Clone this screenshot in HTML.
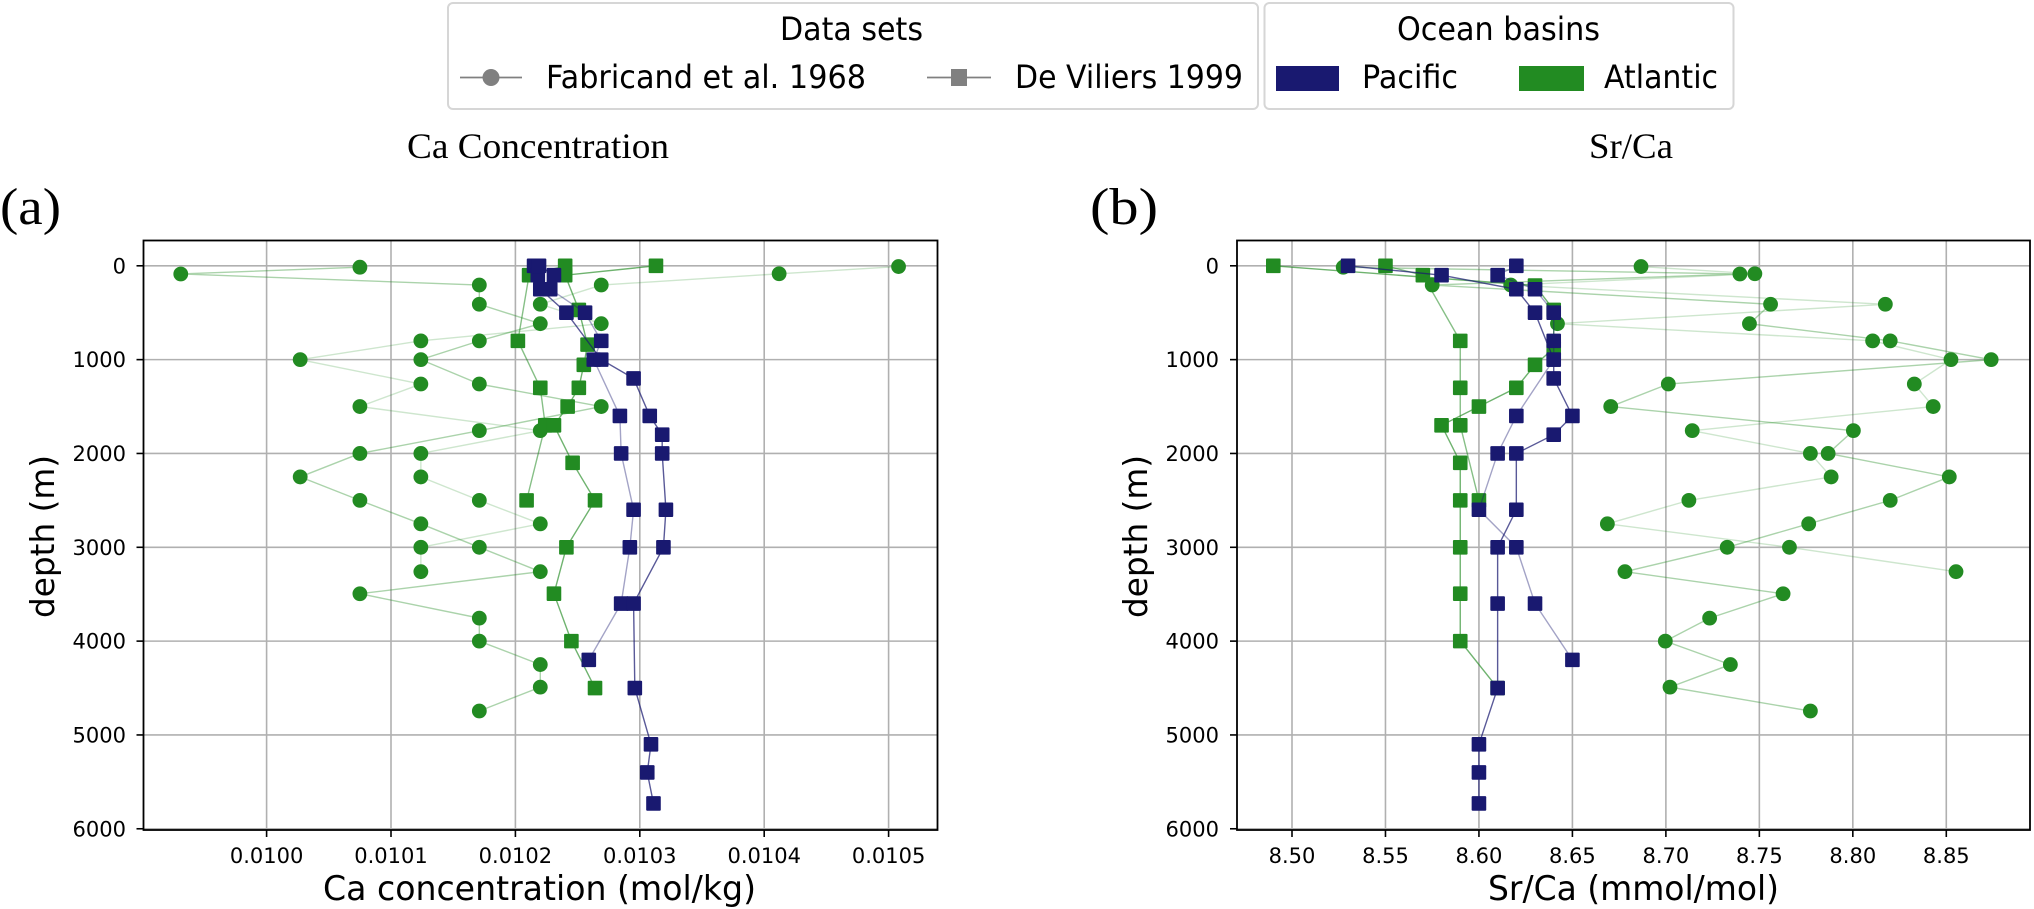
<!DOCTYPE html>
<html lang="en">
<head>
<meta charset="utf-8">
<title>Ca concentration and Sr/Ca depth profiles</title>
<style>
html,body{margin:0;padding:0;background:#fff;}
svg{display:block;}
text{font-family:"DejaVu Sans","Liberation Sans",sans-serif;fill:#000;}
.serif{font-family:"Liberation Serif","DejaVu Serif",serif;}
</style>
</head>
<body>
<svg id="figure" xmlns="http://www.w3.org/2000/svg" width="2034" height="909" viewBox="0 0 2034 909">
  <rect x="0" y="0" width="2034" height="909" fill="#fff"/>

  <g>
    <rect x="448" y="3" width="810" height="106" rx="5" fill="#fff" stroke="#d6d6d6" stroke-width="2"/>
    <text x="780" y="40" font-size="32" textLength="143" lengthAdjust="spacingAndGlyphs">Data sets</text>
    <line x1="460" y1="77.5" x2="522" y2="77.5" stroke="#808080" stroke-width="1.8"/>
    <circle cx="491" cy="77.5" r="8.5" fill="#808080"/>
    <text x="546" y="88" font-size="32" textLength="320" lengthAdjust="spacingAndGlyphs">Fabricand et al. 1968</text>
    <line x1="927" y1="77.5" x2="991" y2="77.5" stroke="#808080" stroke-width="1.8"/>
    <rect x="951" y="69" width="16" height="17" fill="#808080"/>
    <text x="1015" y="88" font-size="32" textLength="228" lengthAdjust="spacingAndGlyphs">De Viliers 1999</text>
  </g>

  <g>
    <rect x="1264.5" y="3" width="469" height="106" rx="5" fill="#fff" stroke="#d6d6d6" stroke-width="2"/>
    <text x="1397" y="40" font-size="32" textLength="203" lengthAdjust="spacingAndGlyphs">Ocean basins</text>
    <rect x="1276" y="66" width="63" height="25" fill="#191970"/>
    <text x="1362" y="88" font-size="32" textLength="96" lengthAdjust="spacingAndGlyphs">Pacific</text>
    <rect x="1519" y="66" width="65" height="25" fill="#228B22"/>
    <text x="1604" y="88" font-size="32" textLength="114" lengthAdjust="spacingAndGlyphs">Atlantic</text>
  </g>

  <text class="serif" x="407" y="158" font-size="36" textLength="262" lengthAdjust="spacingAndGlyphs">Ca Concentration</text>
  <text class="serif" x="1589" y="158" font-size="36" textLength="84" lengthAdjust="spacingAndGlyphs">Sr/Ca</text>
  <text class="serif" x="0" y="224" font-size="52" textLength="61" lengthAdjust="spacingAndGlyphs">(a)</text>
  <text class="serif" x="1090" y="224" font-size="52" textLength="68" lengthAdjust="spacingAndGlyphs">(b)</text>

  <g id="panel-a"></g>
  <g id="panel-b"></g>

  <text x="323" y="900" font-size="34" textLength="433" lengthAdjust="spacingAndGlyphs">Ca concentration (mol/kg)</text>
  <text x="1488" y="900" font-size="34" textLength="291" lengthAdjust="spacingAndGlyphs">Sr/Ca (mmol/mol)</text>
  <text transform="translate(54,536.5) rotate(-90)" text-anchor="middle" font-size="33" textLength="163" lengthAdjust="spacingAndGlyphs">depth (m)</text>
  <text transform="translate(1147,536.5) rotate(-90)" text-anchor="middle" font-size="33" textLength="163" lengthAdjust="spacingAndGlyphs">depth (m)</text>
</svg>

<script>
// Axis tick values
const depthTicks = [0, 1000, 2000, 3000, 4000, 5000, 6000];
const caTicks = [0.0100, 0.0101, 0.0102, 0.0103, 0.0104, 0.0105];
const caTickLabels = ['0.0100', '0.0101', '0.0102', '0.0103', '0.0104', '0.0105'];
const srTicks = [8.50, 8.55, 8.60, 8.65, 8.70, 8.75, 8.80, 8.85];
const srTickLabels = ['8.50', '8.55', '8.60', '8.65', '8.70', '8.75', '8.80', '8.85'];

// Fabricand et al. 1968, Atlantic (circles)
const fabDepthsX = [15, 87, 205, 410, 617, 800, 1000, 1260, 1500, 1757, 2000, 2250, 2500, 2750, 3000, 3260, 3495, 3755, 4000, 4250, 4490, 4745];
const caFabX = [0.010075, 0.009931, 0.010171, 0.010171, 0.01022, 0.010171, 0.010124, 0.010171, 0.010269, 0.010171, 0.010075, 0.010027, 0.010075, 0.010124, 0.010171, 0.01022, 0.010075, 0.010171, 0.010171, 0.01022, 0.01022, 0.010171];
const srFabX = [8.5274, 8.7396, 8.575, 8.756, 8.7447, 8.82, 8.874, 8.7013, 8.6705, 8.8003, 8.7868, 8.8516, 8.82, 8.7764, 8.7328, 8.6781, 8.7627, 8.7234, 8.6997, 8.7345, 8.7022, 8.7773];
const fabDepthsY = [8, 85, 205, 410, 617, 800, 1000, 1260, 1500, 1757, 2000, 2250, 2500, 2750, 3000, 3260];
const caFabY = [0.010508, 0.010412, 0.010269, 0.01022, 0.010269, 0.010124, 0.010027, 0.010124, 0.010075, 0.01022, 0.010124, 0.010124, 0.010171, 0.01022, 0.010124, 0.010124];
const srFabY = [8.6867, 8.7476, 8.617, 8.8174, 8.642, 8.8106, 8.8525, 8.8329, 8.843, 8.7141, 8.7773, 8.7884, 8.7123, 8.6687, 8.7661, 8.8552];

// De Viliers 1999, Atlantic (squares)
const atlDepthsA = [0, 100, 800, 1300, 1700, 2500];
const caAtlA = [0.01024, 0.010211, 0.010202, 0.01022, 0.010224, 0.010209];
const srAtlA = [8.55, 8.57, 8.59, 8.59, 8.59, 8.60];
const caAtlDepthsB = [0, 100, 470, 840, 1055, 1300, 1500, 1700, 2100, 2500, 3000, 3495, 4000, 4500];
const caAtlB = [0.010313, 0.01024, 0.010251, 0.010258, 0.010255, 0.010251, 0.010242, 0.010231, 0.010246, 0.010264, 0.010241, 0.010231, 0.010245, 0.010264];
const srAtlDepthsB = [0, 210, 470, 880, 1055, 1300, 1500, 1700, 2100, 2500, 3000, 3495, 4000, 4500];
const srAtlB = [8.49, 8.63, 8.64, 8.64, 8.63, 8.62, 8.60, 8.58, 8.59, 8.59, 8.59, 8.59, 8.59, 8.61];

// De Viliers 1999, Pacific (squares)
const pacDepthsA = [0, 100, 250, 500, 800, 1000, 1600, 2000, 2600, 3000, 3600, 4200];
const caPacA = [0.010215, 0.010218, 0.010228, 0.010256, 0.010269, 0.010263, 0.010284, 0.010285, 0.010295, 0.010292, 0.010285, 0.010259];
const srPacA = [8.62, 8.61, 8.63, 8.64, 8.64, 8.64, 8.62, 8.61, 8.60, 8.62, 8.63, 8.65];
const pacDepthsB = [0, 100, 250, 500, 1000, 1200, 1600, 1800, 2000, 2600, 3000, 3600, 4500, 5100, 5400, 5730];
const caPacB = [0.010219, 0.010231, 0.01022, 0.010241, 0.010269, 0.010295, 0.010308, 0.010318, 0.010318, 0.010321, 0.010319, 0.010295, 0.010296, 0.010309, 0.010306, 0.010311];
const srPacB = [8.53, 8.58, 8.62, 8.63, 8.64, 8.64, 8.65, 8.64, 8.62, 8.62, 8.61, 8.61, 8.61, 8.60, 8.60, 8.60];

const SVGNS = 'http://www.w3.org/2000/svg';
const GREEN = '#228B22';
const NAVY = '#191970';

function yDepth(d) { return 265.8 + d * 0.09383; }
function xCa(v) { return 266.6 + (v - 0.0100) / 0.0001 * 124.4; }
function xSr(v) { return 1292 + (v - 8.5) / 0.05 * 93.47; }

function make(parent, tag, attrs) {
  const el = document.createElementNS(SVGNS, tag);
  Object.keys(attrs).forEach(function (k) { el.setAttribute(k, attrs[k]); });
  parent.appendChild(el);
  return el;
}

function drawAxes(g, box, xFn, xTicks, xLabels, labelRight, prefix) {
  xTicks.forEach(function (v, i) {
    const x = xFn(v);
    const grid = make(g, 'line', { x1: x, y1: box.top, x2: x, y2: box.bottom, stroke: '#b0b0b0', 'stroke-width': 1.6 });
    
    
    const tick = make(g, 'line', { x1: x, y1: box.bottom, x2: x, y2: box.bottom + 7, stroke: '#000', 'stroke-width': 1.6 });
    
    
    const label = make(g, 'text', { x: x, y: 863, 'text-anchor': 'middle', 'font-size': 21 });
    
    
    label.textContent = xLabels[i];
  });
  depthTicks.forEach(function (d) {
    const y = yDepth(d);
    const grid = make(g, 'line', { x1: box.left, y1: y, x2: box.right, y2: y, stroke: '#b0b0b0', 'stroke-width': 1.6 });
    
    
    const tick = make(g, 'line', { x1: box.left - 7, y1: y, x2: box.left, y2: y, stroke: '#000', 'stroke-width': 1.6 });
    
    
    const label = make(g, 'text', { x: labelRight, y: y + 7.5, 'text-anchor': 'end', 'font-size': 21 });
    
    
    label.textContent = String(d);
  });
}

function drawFrame(g, box, prefix) {
  const frame = make(g, 'rect', { x: box.left, y: box.top, width: box.right - box.left, height: box.bottom - box.top, fill: 'none', stroke: '#000', 'stroke-width': 1.8 });
  
  
}

function drawSeries(g, xFn, depths, values, color, shape, lineAlpha, name) {
  const pts = values.map(function (v, i) { return [xFn(v), yDepth(depths[i])]; });
  const line = make(g, 'polyline', {
    points: pts.map(function (p) { return p[0].toFixed(2) + ',' + p[1].toFixed(2); }).join(' '),
    fill: 'none', stroke: color, 'stroke-width': 1.4, 'stroke-opacity': lineAlpha
  });
  
  
  pts.forEach(function (p) {
    let mark;
    if (shape === 'circle') {
      mark = make(g, 'circle', { cx: p[0], cy: p[1], r: 7.4, fill: color });
    } else {
      mark = make(g, 'rect', { x: p[0] - 7.3, y: p[1] - 7.3, width: 14.6, height: 14.6, rx: 1, fill: color });
    }
    
    
  });
}

const panelA = document.getElementById('panel-a');
const panelB = document.getElementById('panel-b');
const boxA = { left: 143.5, right: 937.5, top: 240.5, bottom: 830 };
const boxB = { left: 1237, right: 2030, top: 240.5, bottom: 830 };

drawAxes(panelA, boxA, xCa, caTicks, caTickLabels, 126, 'ca');
drawSeries(panelA, xCa, fabDepthsY, caFabY, GREEN, 'circle', 0.22, 'ca-fabricand-atlantic-1');
drawSeries(panelA, xCa, fabDepthsX, caFabX, GREEN, 'circle', 0.38, 'ca-fabricand-atlantic-2');
drawSeries(panelA, xCa, atlDepthsA, caAtlA, GREEN, 'square', 0.55, 'ca-de-viliers-atlantic-1');
drawSeries(panelA, xCa, caAtlDepthsB, caAtlB, GREEN, 'square', 0.65, 'ca-de-viliers-atlantic-2');
drawSeries(panelA, xCa, pacDepthsA, caPacA, NAVY, 'square', 0.4, 'ca-de-viliers-pacific-1');
drawSeries(panelA, xCa, pacDepthsB, caPacB, NAVY, 'square', 0.72, 'ca-de-viliers-pacific-2');
drawFrame(panelA, boxA, 'ca');

drawAxes(panelB, boxB, xSr, srTicks, srTickLabels, 1219, 'sr');
drawSeries(panelB, xSr, fabDepthsY, srFabY, GREEN, 'circle', 0.22, 'sr-fabricand-atlantic-1');
drawSeries(panelB, xSr, fabDepthsX, srFabX, GREEN, 'circle', 0.38, 'sr-fabricand-atlantic-2');
drawSeries(panelB, xSr, atlDepthsA, srAtlA, GREEN, 'square', 0.55, 'sr-de-viliers-atlantic-1');
drawSeries(panelB, xSr, srAtlDepthsB, srAtlB, GREEN, 'square', 0.65, 'sr-de-viliers-atlantic-2');
drawSeries(panelB, xSr, pacDepthsA, srPacA, NAVY, 'square', 0.4, 'sr-de-viliers-pacific-1');
drawSeries(panelB, xSr, pacDepthsB, srPacB, NAVY, 'square', 0.72, 'sr-de-viliers-pacific-2');
drawFrame(panelB, boxB, 'sr');
</script>
</body>
</html>
